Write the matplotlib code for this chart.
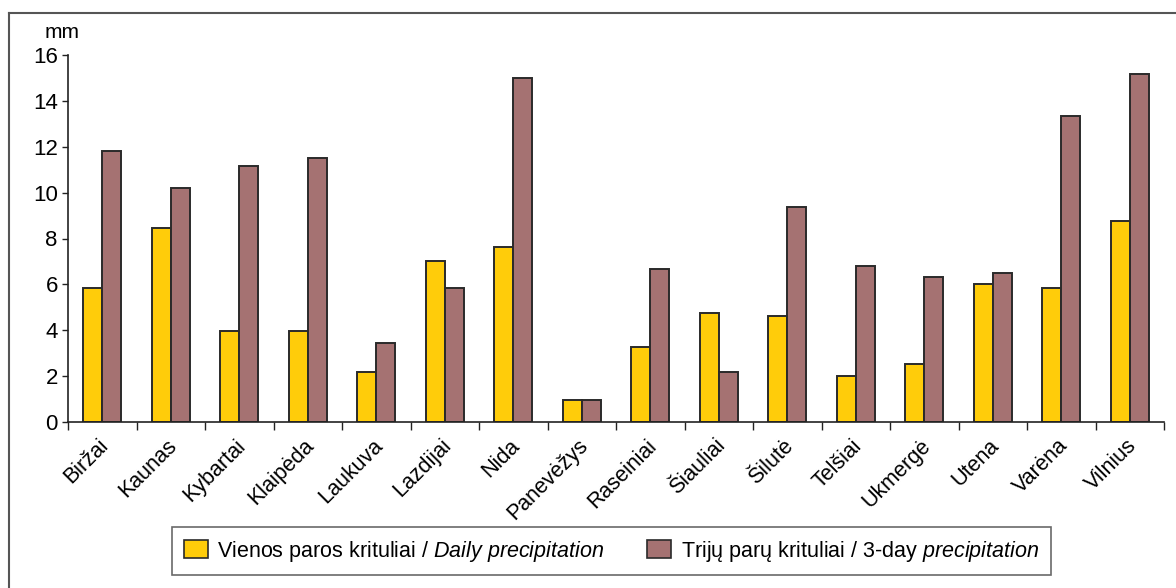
import matplotlib
matplotlib.use("Agg")
import matplotlib.pyplot as plt
import matplotlib.transforms as mtransforms
from matplotlib.patches import Patch
from matplotlib.lines import Line2D
import numpy as np

plt.rcParams['font.family'] = ['Liberation Sans', 'DejaVu Sans']
plt.rcParams['mathtext.fontset'] = 'custom'
plt.rcParams['mathtext.rm'] = 'Liberation Sans'
plt.rcParams['mathtext.it'] = 'Liberation Sans:italic'

stations = ["Biržai", "Kaunas", "Kybartai", "Klaipėda", "Laukuva", "Lazdijai",
            "Nida", "Panevėžys", "Raseiniai", "Šiauliai", "Šilutė", "Telšiai",
            "Ukmergė", "Utena", "Varėna", "Vilnius"]
daily = [5.85, 8.45, 3.98, 3.98, 2.2, 7.0, 7.65, 0.95, 3.25, 4.75, 4.6, 2.02,
         2.54, 6.0, 5.86, 8.76]
three_day = [11.82, 10.18, 11.16, 11.5, 3.45, 5.86, 15.0, 0.95, 6.67, 2.2,
             9.38, 6.81, 6.33, 6.49, 13.32, 15.16]
yticks = [0, 2, 4, 6, 8, 10, 12, 14, 16]

label_daily = "Vienos paros krituliai / $\\it{Daily\\ precipitation}$"
label_3day = "Trijų parų krituliai / 3-day $\\it{precipitation}$"

c_daily = "#FFCC0A"
c_3day = "#A57272"
edge = "#2a2a2a"

fig = plt.figure(figsize=(11.76, 5.88), dpi=100)
W, H = 1176, 588
ax = fig.add_axes([68 / W, 1 - 422 / H, (1164 - 68) / W, (422 - 55) / H])

x = np.arange(len(stations))
bw = 0.28
ax.bar(x - bw / 2, daily, bw, color=c_daily, edgecolor=edge, linewidth=1.4)
ax.bar(x + bw / 2, three_day, bw, color=c_3day, edgecolor=edge, linewidth=1.4)

ax.set_xlim(-0.5, len(stations) - 0.5)
ax.set_ylim(0, 16)
ax.set_yticks(yticks)
ax.tick_params(axis='y', direction='out', length=4.3, width=1, labelsize=16,
               color='#222222', pad=3)

# category boundaries carry the tick marks, centres carry the names
ax.set_xticks(np.arange(-0.5, len(stations), 1.0))
ax.set_xticklabels([])
ax.tick_params(axis='x', which='major', direction='out', length=5.8, width=1,
               color='#222222')
ax.set_xticks(x, minor=True)
ax.set_xticklabels(stations, minor=True, rotation=45, ha='right',
                   rotation_mode='anchor', fontsize=15.5)
ax.tick_params(axis='x', which='minor', length=0, pad=9.5)
shift = mtransforms.ScaledTranslation(-4 / 100, 0, fig.dpi_scale_trans)
for lab in ax.get_xticklabels(minor=True):
    lab.set_transform(lab.get_transform() + shift)

for s in ['top', 'right']:
    ax.spines[s].set_visible(False)
for s in ['left', 'bottom']:
    ax.spines[s].set_color('#222222')
    ax.spines[s].set_linewidth(1.2)

fig.text(45 / W, 1 - 33 / H, "mm", fontsize=15, va='center', ha='left')

handles = [Patch(facecolor=c_daily, edgecolor=edge, linewidth=1.2),
           Patch(facecolor=c_3day, edgecolor=edge, linewidth=1.2)]
leg = fig.legend(handles, [label_daily, label_3day], ncol=2,
                 loc='center', bbox_to_anchor=((173 + 1050) / 2 / W, 1 - 551 / H),
                 fontsize=15.5, frameon=True, fancybox=False,
                 edgecolor='#444444', handlelength=1.1, handleheight=0.9,
                 columnspacing=2.0, handletextpad=0.45, borderpad=0.55)
leg.get_frame().set_linewidth(1.2)

# frame around the whole figure (right and bottom sides run off the canvas)
fig.add_artist(Line2D([9 / W, 9 / W], [0, 1 - 12.7 / H], transform=fig.transFigure,
                      color='#555555', linewidth=1.5))
fig.add_artist(Line2D([9 / W, 1], [1 - 12.7 / H, 1 - 12.7 / H], transform=fig.transFigure,
                      color='#555555', linewidth=1.5))

fig.savefig("out.png", dpi=100)
